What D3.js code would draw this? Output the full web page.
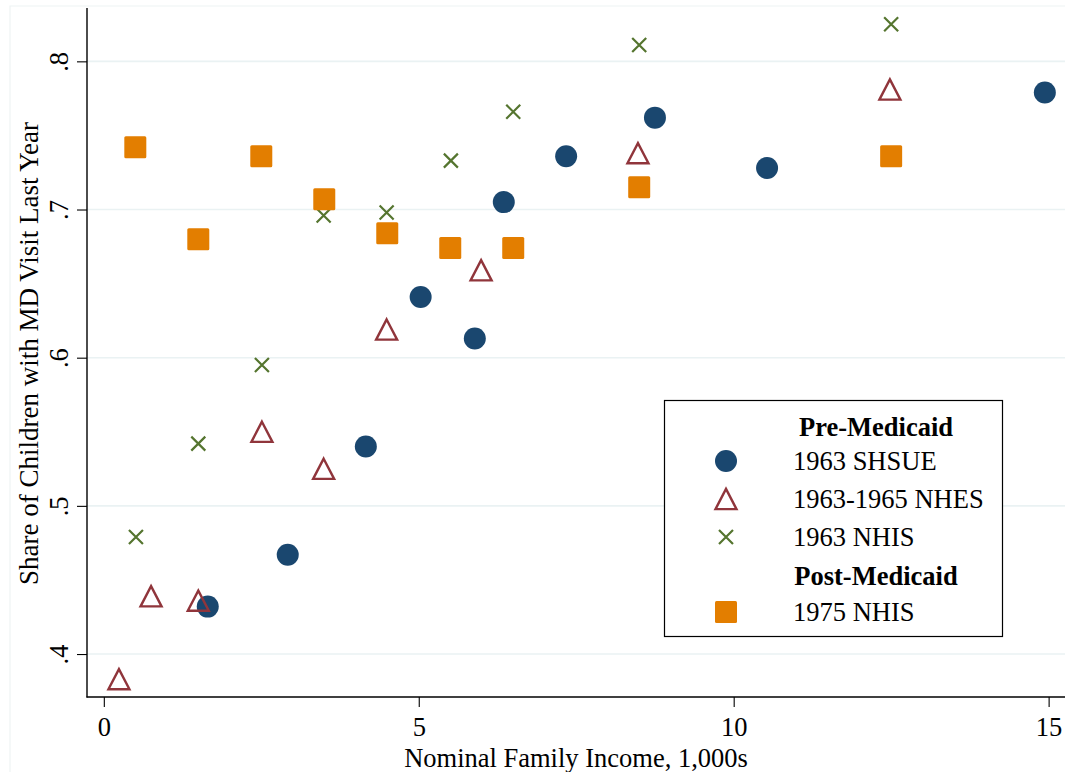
<!DOCTYPE html>
<html>
<head>
<meta charset="utf-8">
<script src="https://cdn.jsdelivr.net/npm/d3@7"></script>
<style>
  html, body { margin: 0; padding: 0; background: #fff; }
  svg { display: block; font-family: "Liberation Serif", "Times New Roman", serif; }
</style>
</head>
<body>
<svg id="chart" width="1065" height="772"></svg>
<script>
// Share of children with an MD visit in the last year, by nominal family income (1,000s)
const shsue1963X = [1.65, 2.92, 4.16, 5.03, 5.89, 6.35, 7.34, 8.75, 10.53, 14.94];
const shsue1963Y = [0.432, 0.467, 0.540, 0.641, 0.613, 0.705, 0.736, 0.762, 0.728, 0.779];

const nhes6365X = [0.24, 0.75, 1.50, 2.51, 3.49, 4.49, 5.99, 8.48, 12.48];
const nhes6365Y = [0.383, 0.439, 0.436, 0.550, 0.525, 0.619, 0.659, 0.738, 0.781];

const nhis1963X = [0.51, 1.50, 2.51, 3.49, 4.49, 5.51, 6.50, 8.50, 12.50];
const nhis1963Y = [0.479, 0.542, 0.595, 0.696, 0.698, 0.733, 0.766, 0.811, 0.825];

const nhis1975X = [0.50, 1.50, 2.50, 3.50, 4.50, 5.50, 6.50, 8.50, 12.50];
const nhis1975Y = [0.742, 0.680, 0.736, 0.707, 0.684, 0.674, 0.674, 0.715, 0.736];

const xTicks = [0, 5, 10, 15];
const yTicks = [0.4, 0.5, 0.6, 0.7, 0.8];
const yTickLabels = [".4", ".5", ".6", ".7", ".8"];

const xTitle = "Nominal Family Income, 1,000s";
const yTitle = "Share of Children with MD Visit Last Year";

const colors = { navy: "#1a476f", maroon: "#90353b", green: "#55752f", orange: "#e37e00" };

const svg = d3.select("#chart");
const W = 1065, H = 772;
const plot = { left: 87, top: 8, right: 1065, bottom: 697 };
const FS = 26.5;

const x = d3.scaleLinear().domain([-0.267, 15.26]).range([plot.left, plot.right]);
const y = d3.scaleLinear().domain([0.371, 0.836]).range([plot.bottom, plot.top]);

// faint outer frame of the graph region
svg.append("path")
  .attr("d", `M10,${H} L10,6 L${W},6`)
  .attr("fill", "none").attr("stroke", "#eef3f4").attr("stroke-width", 1.2);

// horizontal gridlines
svg.append("g").selectAll("line").data(yTicks).join("line")
  .attr("x1", plot.left).attr("x2", plot.right)
  .attr("y1", d => y(d)).attr("y2", d => y(d))
  .attr("stroke", "#eaf2f3").attr("stroke-width", 1.6);

// y axis
const yAxis = d3.axisLeft(y).tickValues(yTicks).tickSize(10).tickPadding(6)
  .tickFormat((d, i) => yTickLabels[i]);
const gy = svg.append("g").attr("transform", `translate(${plot.left},0)`).call(yAxis);
gy.select(".domain").attr("stroke", "#000").attr("stroke-width", 1.4)
  .attr("d", `M0,${plot.top}V${plot.bottom + 0.5}`);
gy.selectAll(".tick line").attr("stroke", "#000").attr("stroke-width", 1.1);
gy.selectAll(".tick text")
  .attr("font-family", "Liberation Serif, serif").attr("font-size", FS).attr("fill", "#000")
  .attr("text-anchor", "middle").attr("dy", 0)
  .attr("x", 0).attr("y", 0)
  .attr("transform", "translate(-19,0) rotate(-90)");

// x axis
const xAxis = d3.axisBottom(x).tickValues(xTicks).tickSize(10).tickPadding(8).tickFormat(d3.format("d"));
const gx = svg.append("g").attr("transform", `translate(0,${plot.bottom})`).call(xAxis);
gx.select(".domain").attr("stroke", "#000").attr("stroke-width", 1.4)
  .attr("d", `M${plot.left - 0.5},0H${plot.right}`);
gx.selectAll(".tick line").attr("stroke", "#000").attr("stroke-width", 1.1);
gx.selectAll(".tick text")
  .attr("font-family", "Liberation Serif, serif").attr("font-size", FS).attr("fill", "#000")
  .attr("y", 39).attr("dy", 0);

// axis titles
svg.append("text").attr("x", (plot.left + plot.right) / 2).attr("y", 767)
  .attr("text-anchor", "middle").attr("font-size", FS).text(xTitle);
svg.append("text")
  .attr("transform", `translate(38,${(plot.top + plot.bottom) / 2 + 1}) rotate(-90)`)
  .attr("text-anchor", "middle").attr("font-size", 27).text(yTitle);

// marker drawing helpers; the hollow triangle is centred on its bounding box
const triPath = (s) => {
  const h = s * Math.sqrt(3) / 2 + 2;
  return `M0,${-h / 2}L${s / 2},${h / 2}L${-s / 2},${h / 2}Z`;
};

function drawCircles(g, xs, ys, c) {
  g.selectAll(null).data(xs.map((d, i) => [d, ys[i]])).join("circle")
    .attr("cx", d => x(d[0])).attr("cy", d => y(d[1])).attr("r", 11).attr("fill", c);
}
function drawTriangles(g, xs, ys, c) {
  g.selectAll(null).data(xs.map((d, i) => [d, ys[i]])).join("path")
    .attr("transform", d => `translate(${x(d[0])},${y(d[1])})`)
    .attr("d", triPath(21)).attr("fill", "none").attr("stroke", c)
    .attr("stroke-width", 2.4).attr("stroke-linejoin", "miter");
}
function drawCrosses(g, xs, ys, c) {
  const s = 7;
  g.selectAll(null).data(xs.map((d, i) => [d, ys[i]])).join("path")
    .attr("transform", d => `translate(${x(d[0])},${y(d[1])})`)
    .attr("d", `M${-s},${-s}L${s},${s}M${-s},${s}L${s},${-s}`)
    .attr("stroke", c).attr("stroke-width", 2.2).attr("fill", "none");
}
function drawSquares(g, xs, ys, c) {
  const s = 22;
  g.selectAll(null).data(xs.map((d, i) => [d, ys[i]])).join("rect")
    .attr("x", d => x(d[0]) - s / 2).attr("y", d => y(d[1]) - s / 2)
    .attr("width", s).attr("height", s).attr("rx", 1.5).attr("fill", c);
}

const marks = svg.append("g");
drawCircles(marks.append("g"), shsue1963X, shsue1963Y, colors.navy);
drawTriangles(marks.append("g"), nhes6365X, nhes6365Y, colors.maroon);
drawCrosses(marks.append("g"), nhis1963X, nhis1963Y, colors.green);
drawSquares(marks.append("g"), nhis1975X, nhis1975Y, colors.orange);

// legend
const legend = svg.append("g");
legend.append("rect").attr("x", 664.5).attr("y", 400.5).attr("width", 338).attr("height", 236)
  .attr("fill", "#fff").attr("stroke", "#000").attr("stroke-width", 1.2);

const lgX = 726, lgTextX = 793;
const rows = [
  { type: "head", label: "Pre-Medicaid", y: 427 },
  { type: "circle", label: "1963 SHSUE", y: 461, c: colors.navy },
  { type: "tri", label: "1963-1965 NHES", y: 499, c: colors.maroon },
  { type: "cross", label: "1963 NHIS", y: 537, c: colors.green },
  { type: "head", label: "Post-Medicaid", y: 576 },
  { type: "square", label: "1975 NHIS", y: 612, c: colors.orange }
];
rows.forEach(r => {
  if (r.type === "head") {
    legend.append("text").attr("x", 876).attr("y", r.y).attr("dy", "0.35em")
      .attr("text-anchor", "middle").attr("font-weight", "bold").attr("font-size", FS).text(r.label);
    return;
  }
  if (r.type === "circle") legend.append("circle").attr("cx", lgX).attr("cy", r.y).attr("r", 11).attr("fill", r.c);
  if (r.type === "tri") legend.append("path").attr("transform", `translate(${lgX},${r.y})`)
    .attr("d", triPath(21)).attr("fill", "none").attr("stroke", r.c).attr("stroke-width", 2.4);
  if (r.type === "cross") {
    const s = 7;
    legend.append("path").attr("transform", `translate(${lgX},${r.y})`)
      .attr("d", `M${-s},${-s}L${s},${s}M${-s},${s}L${s},${-s}`)
      .attr("stroke", r.c).attr("stroke-width", 2.2);
  }
  if (r.type === "square") legend.append("rect").attr("x", lgX - 11).attr("y", r.y - 11)
    .attr("width", 22).attr("height", 22).attr("rx", 1.5).attr("fill", r.c);
  legend.append("text").attr("x", lgTextX).attr("y", r.y).attr("dy", "0.35em")
    .attr("font-size", FS).text(r.label);
});
</script>
</body>
</html>
